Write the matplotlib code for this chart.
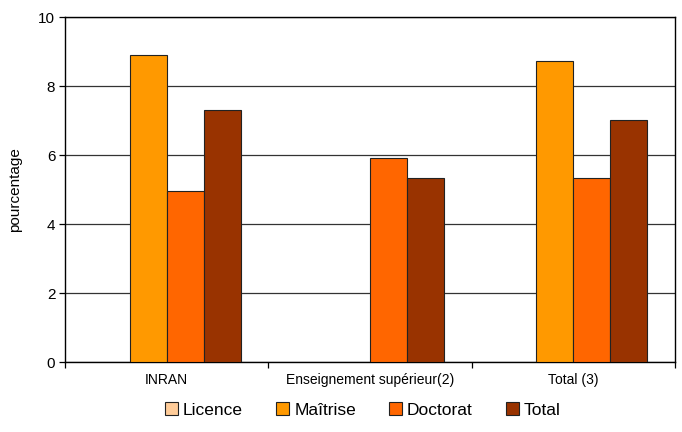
import matplotlib.pyplot as plt
from matplotlib.patches import Patch
import numpy as np

categories = ['INRAN', 'Enseignement supérieur(2)', 'Total (3)']
series = ['Licence', 'Maîtrise', 'Doctorat', 'Total']
licence = [0, 0, 0]
maitrise = [8.9, 0, 8.72]
doctorat = [4.95, 5.92, 5.32]
total = [7.3, 5.32, 7.01]
colors = ['#FFCC99', '#FF9900', '#FF6600', '#993300']

plt.rcParams['font.family'] = ['Liberation Sans', 'DejaVu Sans']

fig = plt.figure(figsize=(6.82, 4.32), dpi=100)
ax = fig.add_axes([0.0953, 0.162, 0.8944, 0.7986])

x = np.arange(len(categories))
width = 0.182
values = [licence, maitrise, doctorat, total]
for i, (vals, c) in enumerate(zip(values, colors)):
    offs = (i - 1.5) * width
    bars = ax.bar(x + offs, vals, width, color=c, edgecolor='#222222',
                  linewidth=0.8, zorder=3)
    # empty cells are not drawn at all
    for b, v in zip(bars, vals):
        if v == 0:
            b.set_visible(False)

ax.set_xlim(-0.5, len(categories) - 0.5)
ax.set_ylim(0, 10)
ax.set_yticks(np.arange(0, 11, 2))
ax.yaxis.grid(True, color='#333333', linewidth=0.9, zorder=0)
ax.set_axisbelow(True)

ax.set_xticks(x)
ax.set_xticklabels(categories, fontsize=10)
ax.set_xticks(np.arange(-0.5, len(categories), 1), minor=True)
ax.tick_params(axis='x', which='major', length=0, pad=8)
ax.tick_params(axis='x', which='minor', length=4, width=0.9, color='black')
ax.tick_params(axis='y', length=4, width=0.9, labelsize=11, pad=3)

for s in ax.spines.values():
    s.set_color('black')
    s.set_linewidth(1.0)

ax.set_ylabel('pourcentage', fontsize=11, labelpad=12)

handles = [Patch(facecolor=c, edgecolor='#222222', linewidth=0.8, label=n)
           for n, c in zip(series, colors)]
fig.legend(handles=handles, loc='center', bbox_to_anchor=(0.532, 0.051),
           ncol=4, frameon=False, fontsize=12.5, handlelength=0.75,
           handleheight=0.75, handletextpad=0.3, columnspacing=1.9)

fig.savefig('out.png', dpi=100)
